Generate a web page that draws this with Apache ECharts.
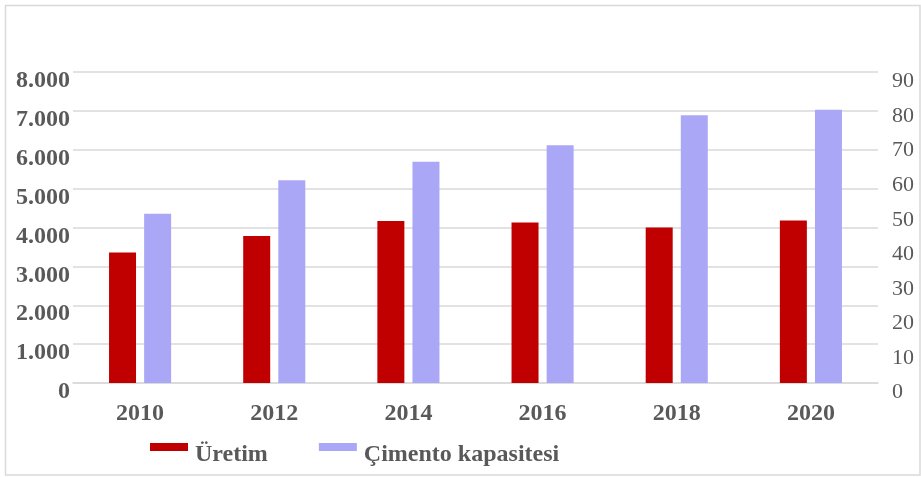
<!DOCTYPE html>
<html>
<head>
<meta charset="utf-8">
<script src="https://cdn.jsdelivr.net/npm/echarts@6/dist/echarts.min.js"></script>
<style>
  html, body { margin: 0; padding: 0; background: #fff; }
  #chart { width: 921px; height: 477px; }
</style>
</head>
<body>
<div id="chart"></div>
<script>
// Years on the category axis
const years = ['2010', '2012', '2014', '2016', '2018', '2020'];
// Production (left axis)
const uretim = [3360, 3780, 4170, 4130, 4000, 4180];
// Cement capacity (right axis)
const kapasite = [49.0, 58.7, 64.0, 68.8, 77.5, 79.1];

const serif = "'Liberation Serif', 'Times New Roman', serif";
const textGray = '#595959';
const gridGray = '#d9d9d9';

const chart = echarts.init(document.getElementById('chart'), null, { renderer: 'canvas' });

chart.setOption({
  animation: false,
  backgroundColor: '#fff',
  graphic: [{
    type: 'rect',
    shape: { x: 5.5, y: 5.5, width: 914.5, height: 469.5 },
    style: { fill: 'none', stroke: gridGray, lineWidth: 1.5 },
    silent: true
  }],
  grid: { left: 73, right: 43, top: 72, bottom: 94 },
  legend: {
    left: 150,
    top: 443,
    padding: 0,
    itemWidth: 38,
    itemHeight: 8,
    itemGap: 51,
    icon: 'rect',
    formatter: name => '{t|' + name + '}',
    textStyle: {
      rich: {
        t: {
          fontFamily: serif, fontSize: 24, fontWeight: 'bold', color: textGray,
          padding: [16, 0, 0, 2]
        }
      }
    },
    data: ['Üretim', 'Çimento kapasitesi']
  },
  xAxis: {
    type: 'category',
    data: years,
    axisLine: { show: true, lineStyle: { color: gridGray, width: 1.5 } },
    axisTick: { show: false },
    axisLabel: {
      margin: 19, fontFamily: serif, fontSize: 24, fontWeight: 'bold', color: textGray
    }
  },
  yAxis: [{
    type: 'value',
    min: 0, max: 8000, interval: 1000,
    axisLine: { show: false },
    axisTick: { show: false },
    splitLine: { lineStyle: { color: gridGray, width: 1.5 } },
    axisLabel: {
      margin: 3,
      formatter: v => '{t|' + (v === 0 ? '0' : (v / 1000).toFixed(3)) + '}',
      rich: {
        t: {
          fontFamily: serif, fontSize: 24, fontWeight: 'bold', color: textGray,
          padding: [18, 0, 0, 0]
        }
      }
    }
  }, {
    type: 'value',
    min: 0, max: 90, interval: 10,
    axisLine: { show: false },
    axisTick: { show: false },
    splitLine: { show: false },
    axisLabel: {
      margin: 14,
      formatter: v => '{t|' + v + '}',
      rich: {
        t: {
          fontFamily: serif, fontSize: 22, color: textGray,
          padding: [19, 0, 0, 0]
        }
      }
    }
  }],
  series: [{
    name: 'Üretim',
    type: 'bar',
    yAxisIndex: 0,
    data: uretim,
    barWidth: 27,
    barGap: '30%',
    itemStyle: { color: '#c00000' }
  }, {
    name: 'Çimento kapasitesi',
    type: 'bar',
    yAxisIndex: 1,
    data: kapasite,
    barWidth: 27,
    barGap: '30%',
    itemStyle: { color: '#aba7f7' }
  }]
});
</script>
</body>
</html>
